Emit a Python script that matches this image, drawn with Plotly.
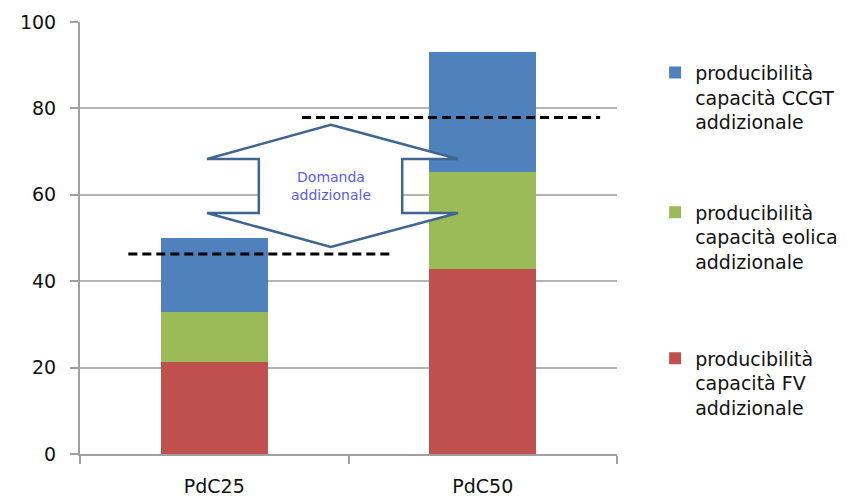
import plotly.graph_objects as go

# Scenarios and stacked contributions
scenarios = ["PdC25", "PdC50"]
fv = [21.4, 42.8]
eolica = [11.4, 22.5]
ccgt = [17.2, 27.8]
domanda = [46.3, 77.9]

series_names = [
    "producibilità<br>capacità FV<br>addizionale",
    "producibilità<br>capacità eolica<br>addizionale",
    "producibilità<br>capacità CCGT<br>addizionale",
]
series_colors = ["#C0504D", "#9BBB59", "#4F81BD"]
y_ticks = [0, 20, 40, 60, 80, 100]

FONT = "'DejaVu Sans', Arial, sans-serif"
TEXT = "#111111"

fig = go.Figure()
for vals, name, color, leg in zip([fv, eolica, ccgt], series_names, series_colors,
                                  ["legend3", "legend2", "legend"]):
    fig.add_trace(go.Bar(
        x=scenarios, y=vals, name=name, marker_color=color,
        marker_line_width=0, legend=leg, width=0.4, showlegend=True,
    ))

# Dashed demand levels, spanning around each bar
dash_spans = [(-0.32, 0.655), (0.327, 1.437)]
for (x0, x1), level in zip(dash_spans, domanda):
    fig.add_shape(type="line", xref="x", yref="y", x0=x0, x1=x1, y0=level, y1=level,
                  line=dict(color="black", width=3, dash="9px,5px"), layer="above")

# Double-headed vertical arrow between the two demand levels
ax_c, ax_l, ax_r, sh_l, sh_r = 0.467, 0.2365, 0.704, 0.333, 0.600
y_top, y_bot, s_top, s_bot = 76.2, 47.9, 68.3, 55.8
path = (f"M {ax_c},{y_top} L {ax_r},{s_top} L {sh_r},{s_top} L {sh_r},{s_bot} "
        f"L {ax_r},{s_bot} L {ax_c},{y_bot} L {ax_l},{s_bot} L {sh_l},{s_bot} "
        f"L {sh_l},{s_top} L {ax_l},{s_top} Z")
fig.add_shape(type="path", xref="paper", yref="y", path=path,
              fillcolor="white", line=dict(color="#3F6592", width=2.5), layer="above")
fig.add_annotation(xref="paper", yref="y", x=ax_c, y=(s_top + s_bot) / 2,
                   text="Domanda<br>addizionale", showarrow=False,
                   font=dict(family=FONT, size=14, color="#5B5BE8"))

legend_common = dict(xanchor="left", yanchor="top", valign="top",
                     font=dict(family=FONT, size=19, color=TEXT),
                     bgcolor="rgba(0,0,0,0)", itemclick=False)
fig.update_layout(
    barmode="stack",
    width=856, height=500,
    margin=dict(l=80, r=239, t=22, b=46, autoexpand=False),
    paper_bgcolor="white", plot_bgcolor="white",
    font=dict(family=FONT, color=TEXT),
    showlegend=True,
    legend=dict(x=1.071, y=0.927, **legend_common),
    legend2=dict(x=1.071, y=0.603, **legend_common),
    legend3=dict(x=1.071, y=0.265, **legend_common),
    xaxis=dict(type="category", range=[-0.5, 1.5], showline=True, linecolor="#A0A0A0",
               linewidth=2, ticks="outside", tickson="boundaries", ticklen=8,
               tickcolor="#A0A0A0", tickwidth=2, showgrid=False, ticklabelstandoff=14,
               automargin=False, tickfont=dict(family=FONT, size=19, color=TEXT)),
    yaxis=dict(range=[0, 100], tickvals=y_ticks, showline=True, linecolor="#A0A0A0",
               linewidth=2, ticks="outside", ticklen=8, tickcolor="#A0A0A0", tickwidth=2,
               gridcolor="#B4B4B4", gridwidth=1.5, zeroline=False, ticklabelstandoff=10,
               automargin=False, tickfont=dict(family=FONT, size=19, color=TEXT)),
)

fig.write_html("out.html")
